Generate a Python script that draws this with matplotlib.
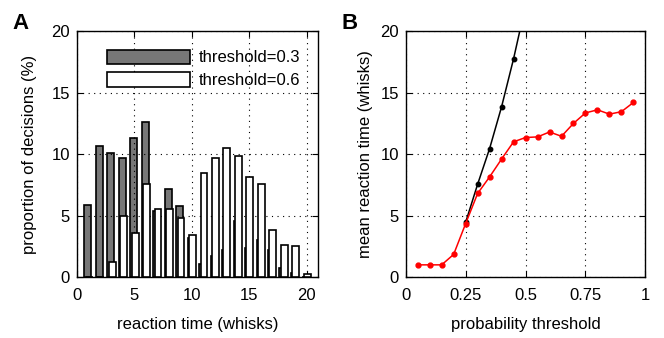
import numpy as np
import matplotlib
matplotlib.use('Agg')
import matplotlib.pyplot as plt

plt.rcParams['font.family'] = ['Liberation Sans', 'DejaVu Sans']
plt.rcParams['font.size'] = 12

# ---- panel A: reaction time histograms ----
rt_bins = np.arange(1, 21)
prop_03 = [5.9, 10.7, 10.1, 9.65, 11.3, 12.6, 5.4, 7.15, 5.75, 3.15,
           1.05, 1.75, 2.2, 4.6, 2.4, 3.05, 2.2, 0.75, 0.35, 0.0]
prop_06 = [0.0, 0.0, 1.2, 4.95, 3.6, 7.6, 5.55, 5.5, 4.8, 3.45,
           8.45, 9.65, 10.5, 9.85, 8.15, 7.6, 3.85, 2.6, 2.5, 0.27]
legend_labels = ['threshold=0.3', 'threshold=0.6']

# ---- panel B: mean reaction time vs threshold ----
thr_red = [0.05, 0.10, 0.15, 0.20, 0.25, 0.30, 0.35, 0.40, 0.45, 0.50,
           0.55, 0.60, 0.65, 0.70, 0.75, 0.80, 0.85, 0.90, 0.95]
mrt_red = [1.0, 1.0, 1.0, 1.85, 4.35, 6.8, 8.15, 9.6, 11.0, 11.35,
           11.4, 11.8, 11.45, 12.5, 13.35, 13.6, 13.25, 13.45, 14.2]
thr_black = [0.25, 0.30, 0.35, 0.40, 0.45, 0.50]
mrt_black = [4.45, 7.55, 10.45, 13.85, 17.75, 22.1]
thr_ticks = [0, 0.25, 0.5, 0.75, 1]
thr_ticklabels = ['0', '0.25', '0.5', '0.75', '1']


def style_axes(ax):
    ax.tick_params(direction='in', length=4, width=0.8, top=True, right=True,
                   colors='black', labelsize=12)
    ax.tick_params(axis='x', pad=8)
    ax.tick_params(axis='y', pad=5)
    for sp in ax.spines.values():
        sp.set_linewidth(1.0)
    ax.grid(True, linestyle=(0, (1, 4)), linewidth=0.8, color='black')
    ax.set_axisbelow(False)


fig = plt.figure(figsize=(6.64, 3.38), dpi=100)
axA = fig.add_axes([0.116, 0.180, 0.363, 0.728])
axB = fig.add_axes([0.611, 0.180, 0.361, 0.728])

# histogram bars, the second set drawn on top and shifted right
w = 0.6
axA.bar(rt_bins - 0.06, prop_03, width=w, color='#777777', edgecolor='black',
        linewidth=1.2, label=legend_labels[0], zorder=2)
axA.bar(rt_bins + 0.06, prop_06, width=w, color='white', edgecolor='black',
        linewidth=1.2, label=legend_labels[1], zorder=3)
axA.set_xlim(0, 21)
axA.set_ylim(0, 20)
axA.set_xticks([0, 5, 10, 15, 20])
axA.set_yticks([0, 5, 10, 15, 20])
style_axes(axA)
axA.set_xlabel('reaction time (whisks)')
axA.set_ylabel('proportion of decisions (%)')
axA.xaxis.set_label_coords(0.5, -0.16)
axA.yaxis.set_label_coords(-0.166, 0.5)
axA.legend(loc='upper left', bbox_to_anchor=(0.123, 0.925), frameon=False,
           borderpad=0, borderaxespad=0, handlelength=5.0, handleheight=0.95,
           labelspacing=0.4, handletextpad=0.5, fontsize=12)

axB.plot(thr_black, mrt_black, '-o', color='black', lw=1.1, ms=3.2, zorder=3)
axB.plot(thr_red, mrt_red, '-o', color='red', lw=1.1, ms=3.5, zorder=4)
axB.set_xlim(0, 1)
axB.set_ylim(0, 20)
axB.set_xticks(thr_ticks)
axB.set_xticklabels(thr_ticklabels)
axB.set_yticks([0, 5, 10, 15, 20])
style_axes(axB)
axB.set_xlabel('probability threshold')
axB.set_ylabel('mean reaction time (whisks)')
axB.xaxis.set_label_coords(0.5, -0.16)
axB.yaxis.set_label_coords(-0.137, 0.5)

fig.text(0.018, 0.962, 'A', fontsize=16, fontweight='bold', va='top', ha='left')
fig.text(0.515, 0.962, 'B', fontsize=16, fontweight='bold', va='top', ha='left')

fig.savefig('out.png', dpi=100)
